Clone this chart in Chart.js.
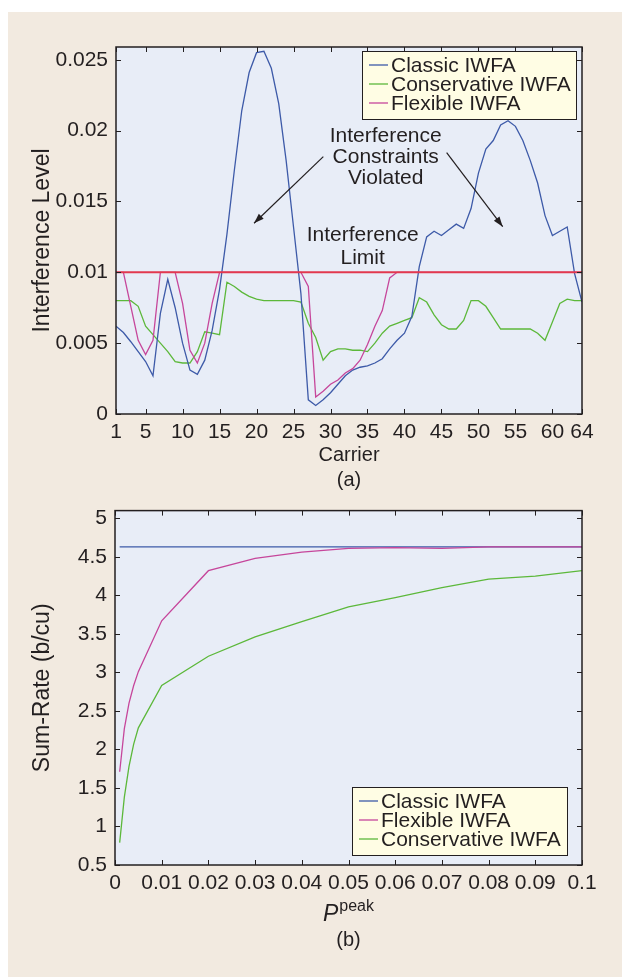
<!DOCTYPE html>
<html>
<head>
<meta charset="utf-8">
<script src="https://cdn.jsdelivr.net/npm/chart.js@4"></script>
<style>
  html, body { margin: 0; padding: 0; background: #fff; }
  #wrap { position: relative; width: 622px; height: 977px; overflow: hidden; }
  #panel { position: absolute; left: 8px; top: 12px; right: 0; bottom: 0; background: #f2eae0; }
  canvas { position: absolute; left: 0; }
  #chartA { top: 0; }
  #chartB { top: 490px; }
</style>
</head>
<body>
<div id="wrap">
  <div id="panel"></div>
  <canvas id="chartA" width="622" height="490"></canvas>
  <canvas id="chartB" width="622" height="487"></canvas>
</div>
<script>
// (a) interference per carrier
const carriers = [1, 2, 3, 4, 5, 6, 7, 8, 9, 10, 11, 12, 13, 14, 15, 16, 17, 18, 19, 20,
  21, 22, 23, 24, 25, 26, 27, 28, 29, 30, 31, 32, 33, 34, 35, 36, 37, 38, 39, 40,
  41, 42, 43, 44, 45, 46, 47, 48, 49, 50, 51, 52, 53, 54, 55, 56, 57, 58, 59, 60,
  61, 62, 63, 64];
const classicA = [0.0062, 0.00575, 0.0051, 0.0044, 0.0037, 0.0027, 0.0071, 0.0095, 0.0075, 0.0050,
  0.0031, 0.0028, 0.0038, 0.0059, 0.0088, 0.0127, 0.0172, 0.0214, 0.0241, 0.0255,
  0.0256, 0.0244, 0.0219, 0.0179, 0.0132, 0.0085, 0.0010, 0.0006, 0.0010, 0.0015,
  0.0021, 0.0027, 0.0031, 0.0033, 0.0034, 0.0036, 0.0039, 0.0046, 0.0052, 0.0057,
  0.0069, 0.0104, 0.0125, 0.0129, 0.0126, 0.0130, 0.0134, 0.0131, 0.0145, 0.0170,
  0.0187, 0.0193, 0.0204, 0.0207, 0.0203, 0.0193, 0.0179, 0.0163, 0.0140, 0.0126,
  0.0129, 0.0132, 0.0099, 0.0079];
const conservativeA = [0.0080, 0.0080, 0.0080, 0.0076, 0.0062, 0.0056, 0.0050, 0.0044, 0.0037, 0.0036,
  0.0036, 0.0044, 0.0058, 0.0057, 0.0056, 0.0093, 0.0090, 0.0086, 0.0083, 0.0081,
  0.0080, 0.0080, 0.0080, 0.0080, 0.0080, 0.0079, 0.0064, 0.0054, 0.0038, 0.0044,
  0.0046, 0.0046, 0.0045, 0.0045, 0.0044, 0.0050, 0.0057, 0.0062, 0.0064, 0.0066,
  0.0068, 0.0082, 0.0079, 0.0070, 0.0063, 0.0060, 0.0060, 0.0066, 0.0080, 0.0080,
  0.0076, 0.0068, 0.0060, 0.0060, 0.0060, 0.0060, 0.0060, 0.0057, 0.0052, 0.0065,
  0.0078, 0.0081, 0.0080, 0.0080];
const flexibleA = [0.0100, 0.0100, 0.0076, 0.0052, 0.0042, 0.0052, 0.0100, 0.0100, 0.0100, 0.0078,
  0.0045, 0.0036, 0.0050, 0.0078, 0.0100, 0.0100, 0.0100, 0.0100, 0.0100, 0.0100,
  0.0100, 0.0100, 0.0100, 0.0100, 0.0100, 0.0100, 0.0090, 0.0012, 0.0016, 0.0021,
  0.0024, 0.0029, 0.0032, 0.0038, 0.0049, 0.0062, 0.0073, 0.0096, 0.0100, 0.0100,
  0.0100, 0.0100, 0.0100, 0.0100, 0.0100, 0.0100, 0.0100, 0.0100, 0.0100, 0.0100,
  0.0100, 0.0100, 0.0100, 0.0100, 0.0100, 0.0100, 0.0100, 0.0100, 0.0100, 0.0100,
  0.0100, 0.0100, 0.0100, 0.0100];
const interferenceLimit = 0.01;
const xTicksA = [1, 5, 10, 15, 20, 25, 30, 35, 40, 45, 50, 55, 60, 64];
const yTicksA = [0, 0.005, 0.01, 0.015, 0.02, 0.025];

// (b) sum-rate vs peak power
const pPeak = [0.001, 0.002, 0.003, 0.004, 0.005, 0.01, 0.02, 0.03, 0.04, 0.05, 0.06, 0.07, 0.08, 0.09, 0.1];
const classicB = [4.63, 4.63, 4.63, 4.63, 4.63, 4.63, 4.63, 4.63, 4.63, 4.63, 4.63, 4.63, 4.63, 4.63, 4.63];
const flexibleB = [1.71, 2.27, 2.60, 2.83, 3.01, 3.67, 4.32, 4.48, 4.56, 4.61, 4.62, 4.61, 4.63, 4.63, 4.63];
const conservativeB = [0.79, 1.38, 1.78, 2.07, 2.28, 2.83, 3.21, 3.46, 3.66, 3.85, 3.97, 4.10, 4.21, 4.25, 4.32];
const xTicksB = [0, 0.01, 0.02, 0.03, 0.04, 0.05, 0.06, 0.07, 0.08, 0.09, 0.1];
const yTicksB = [0.5, 1, 1.5, 2, 2.5, 3, 3.5, 4, 4.5, 5];

const FONT = '"Liberation Sans", Arial, Helvetica, sans-serif';
const INK = '#231f20';
const BLUE = '#3d5aa8', GREEN = '#5cb83a', PINK = '#c6469b', RED = '#e2384f';

const pts = (xs, ys) => xs.map((x, i) => ({ x: x, y: ys[i] }));

// light blue plot area
const plotBg = {
  id: 'plotBg',
  beforeDatasetsDraw(chart) {
    const { ctx, chartArea: a } = chart;
    ctx.save();
    ctx.fillStyle = '#e8edf7';
    ctx.fillRect(a.left, a.top, a.right - a.left, a.bottom - a.top);
    ctx.restore();
  }
};

// box + inward tick marks on all four sides
const frame = {
  id: 'frame',
  afterDatasetsDraw(chart) {
    const { ctx, chartArea: a, scales } = chart;
    ctx.save();
    ctx.strokeStyle = INK;
    ctx.lineWidth = 1;
    ctx.beginPath();
    scales.x.ticks.forEach(t => {
      const px = Math.round(scales.x.getPixelForValue(t.value)) + 0.5;
      ctx.moveTo(px, a.bottom); ctx.lineTo(px, a.bottom - 5);
      ctx.moveTo(px, a.top); ctx.lineTo(px, a.top + 5);
    });
    scales.y.ticks.forEach(t => {
      const py = Math.round(scales.y.getPixelForValue(t.value)) + 0.5;
      ctx.moveTo(a.left, py); ctx.lineTo(a.left + 5, py);
      ctx.moveTo(a.right, py); ctx.lineTo(a.right - 5, py);
    });
    ctx.stroke();
    ctx.lineWidth = 1.5;
    ctx.strokeRect(a.left, a.top, a.right - a.left, a.bottom - a.top);
    ctx.restore();
  }
};

function drawLegend(ctx, items, box) {
  ctx.save();
  ctx.fillStyle = '#fffde4';
  ctx.fillRect(box.x, box.y, box.w, box.h);
  ctx.strokeStyle = INK;
  ctx.lineWidth = 1;
  ctx.strokeRect(box.x + 0.5, box.y + 0.5, box.w, box.h);
  ctx.font = '21px ' + FONT;
  ctx.textBaseline = 'middle';
  ctx.fillStyle = INK;
  items.forEach((it, i) => {
    const y = box.y + 14 + i * 19;
    ctx.strokeStyle = it.color;
    ctx.lineWidth = 1.3;
    ctx.beginPath();
    ctx.moveTo(box.x + 7, y); ctx.lineTo(box.x + 26, y);
    ctx.stroke();
    ctx.fillText(it.label, box.x + 29, y + 1);
  });
  ctx.restore();
}

function arrow(ctx, x1, y1, x2, y2) {
  const ang = Math.atan2(y2 - y1, x2 - x1);
  ctx.beginPath();
  ctx.moveTo(x1, y1); ctx.lineTo(x2, y2);
  ctx.stroke();
  ctx.beginPath();
  ctx.moveTo(x2, y2);
  ctx.lineTo(x2 - 10 * Math.cos(ang) + 3.5 * Math.sin(ang), y2 - 10 * Math.sin(ang) - 3.5 * Math.cos(ang));
  ctx.lineTo(x2 - 10 * Math.cos(ang) - 3.5 * Math.sin(ang), y2 - 10 * Math.sin(ang) + 3.5 * Math.cos(ang));
  ctx.closePath();
  ctx.fill();
}

function yTitle(ctx, text, x, y) {
  ctx.save();
  ctx.translate(x, y);
  ctx.rotate(-Math.PI / 2);
  ctx.font = '23px ' + FONT;
  ctx.fillStyle = INK;
  ctx.textAlign = 'center';
  ctx.textBaseline = 'middle';
  ctx.fillText(text, 0, 0);
  ctx.restore();
}

const decorA = {
  id: 'decorA',
  afterDatasetsDraw(chart) {
    const { ctx, chartArea: a, scales: { x, y } } = chart;
    // annotations, anchored in data space
    ctx.save();
    ctx.fillStyle = INK;
    ctx.strokeStyle = INK;
    ctx.lineWidth = 1.2;
    ctx.font = '21px ' + FONT;
    ctx.textAlign = 'center';
    ctx.textBaseline = 'middle';
    ['Interference', 'Constraints', 'Violated'].forEach((s, i) => {
      ctx.fillText(s, x.getPixelForValue(37.46), y.getPixelForValue(0.01962 - i * 0.00150));
    });
    ctx.fillText('Interference', x.getPixelForValue(34.35), y.getPixelForValue(0.01263));
    ctx.fillText('Limit', x.getPixelForValue(34.35), y.getPixelForValue(0.01101));
    arrow(ctx, x.getPixelForValue(29.03), y.getPixelForValue(0.01816), x.getPixelForValue(19.66), y.getPixelForValue(0.01346));
    arrow(ctx, x.getPixelForValue(45.70), y.getPixelForValue(0.01844), x.getPixelForValue(53.28), y.getPixelForValue(0.01322));
    ctx.restore();

    const ds = chart.data.datasets;
    drawLegend(ctx, [
      { label: ds[1].label, color: ds[1].borderColor },
      { label: ds[2].label, color: ds[2].borderColor },
      { label: ds[3].label, color: ds[3].borderColor }
    ], { x: a.right - 220, y: a.top + 4, w: 214, h: 68 });

    ctx.save();
    ctx.fillStyle = INK;
    ctx.textAlign = 'center';
    ctx.textBaseline = 'middle';
    ctx.font = '20px ' + FONT;
    const cx = (a.left + a.right) / 2;
    ctx.fillText('Carrier', cx, 455);
    ctx.fillText('(a)', cx, 480);
    ctx.restore();
    yTitle(ctx, 'Interference Level', 43, (a.top + a.bottom) / 2 + 10);
  }
};

const decorB = {
  id: 'decorB',
  afterDatasetsDraw(chart) {
    const { ctx, chartArea: a } = chart;
    const ds = chart.data.datasets;
    drawLegend(ctx, [
      { label: ds[0].label, color: ds[0].borderColor },
      { label: ds[1].label, color: ds[1].borderColor },
      { label: ds[2].label, color: ds[2].borderColor }
    ], { x: a.right - 230, y: a.bottom - 78, w: 215, h: 68 });

    ctx.save();
    ctx.fillStyle = INK;
    ctx.textBaseline = 'alphabetic';
    const cx = (a.left + a.right) / 2;
    ctx.font = 'italic 23px ' + FONT;
    const wP = ctx.measureText('P').width;
    ctx.font = '16px ' + FONT;
    const wS = ctx.measureText('peak').width;
    const x0 = cx - (wP + wS + 1) / 2;
    ctx.font = 'italic 23px ' + FONT;
    ctx.fillText('P', x0, 431);
    ctx.font = '16px ' + FONT;
    ctx.fillText('peak', x0 + wP + 1, 421);
    ctx.font = '20px ' + FONT;
    ctx.textAlign = 'center';
    ctx.textBaseline = 'middle';
    ctx.fillText('(b)', cx, 450);
    ctx.restore();
    yTitle(ctx, 'Sum-Rate (b/cu)', 43, (a.top + a.bottom) / 2);
  }
};

function axisOpts(ticks, min, max, isX, size) {
  return {
    type: 'linear',
    min: min,
    max: max,
    afterBuildTicks: s => { s.ticks = ticks.map(v => ({ value: v })); },
    afterFit: s => { if (isX) s.height = size; else s.width = size; },
    grid: { display: false, drawTicks: false },
    border: { display: false },
    ticks: {
      autoSkip: false,
      maxRotation: 0,
      padding: isX ? 6 : 8,
      color: INK,
      font: { family: FONT, size: 21 },
      callback: v => String(v)
    }
  };
}

const common = {
  responsive: false,
  animation: false,
  plugins: { legend: { display: false }, tooltip: { enabled: false } },
  elements: { point: { radius: 0 }, line: { tension: 0, borderWidth: 1.3 } }
};

new Chart(document.getElementById('chartA'), {
  type: 'line',
  data: {
    datasets: [
      { label: 'Interference Limit', data: pts([1, 64], [interferenceLimit, interferenceLimit]), borderColor: RED, borderWidth: 2, order: 0 },
      { label: 'Classic IWFA', data: pts(carriers, classicA), borderColor: BLUE, order: 2 },
      { label: 'Conservative IWFA', data: pts(carriers, conservativeA), borderColor: GREEN, order: 3 },
      { label: 'Flexible IWFA', data: pts(carriers, flexibleA), borderColor: PINK, order: 1 }
    ]
  },
  options: Object.assign({}, common, {
    layout: { padding: { left: 0, right: 40, top: 47, bottom: 0 } },
    scales: {
      x: axisOpts(xTicksA, 1, 64, true, 76),
      y: axisOpts(yTicksA, 0, 0.0259, false, 116)
    }
  }),
  plugins: [plotBg, frame, decorA]
});

new Chart(document.getElementById('chartB'), {
  type: 'line',
  data: {
    datasets: [
      { label: 'Classic IWFA', data: pts(pPeak, classicB), borderColor: BLUE, order: 2 },
      { label: 'Flexible IWFA', data: pts(pPeak, flexibleB), borderColor: PINK, order: 1 },
      { label: 'Conservative IWFA', data: pts(pPeak, conservativeB), borderColor: GREEN, order: 3 }
    ]
  },
  options: Object.assign({}, common, {
    layout: { padding: { left: 0, right: 40, top: 18, bottom: 0 } },
    scales: {
      x: axisOpts(xTicksB, 0, 0.1, true, 112),
      y: axisOpts(yTicksB, 0.5, 5.1, false, 115)
    }
  }),
  plugins: [plotBg, frame, decorB]
});
</script>
</body>
</html>
